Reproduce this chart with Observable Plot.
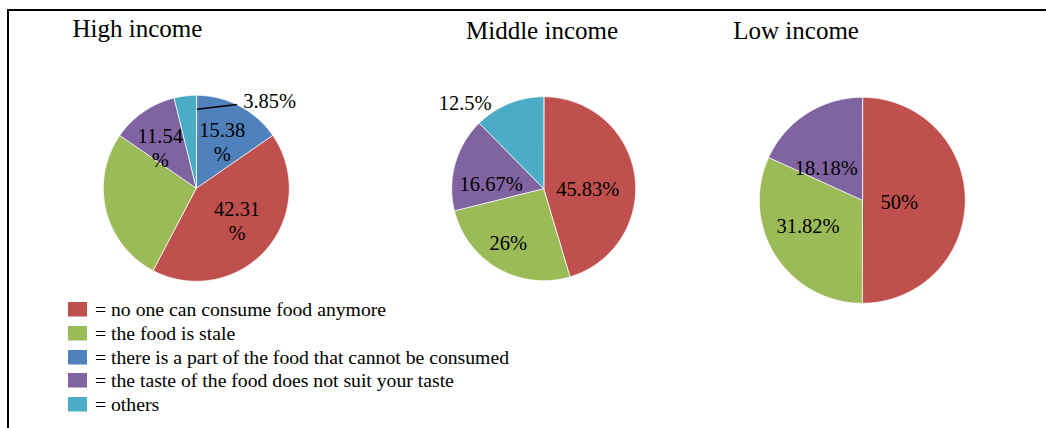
<!DOCTYPE html>
<html><head><meta charset="utf-8">
<script src="https://cdn.jsdelivr.net/npm/d3@7"></script>
<script src="https://cdn.jsdelivr.net/npm/@observablehq/plot@0.6"></script>
<style>
html,body{margin:0;padding:0;background:#fff;}
#root{position:relative;width:1046px;height:428px;overflow:hidden;font-family:"Liberation Serif","Times New Roman",serif;color:#000;}
#frame{position:absolute;left:7px;top:9px;width:1100px;height:500px;border-top:2px solid #000;border-left:2px solid #000;}
.title{position:absolute;font-size:25px;line-height:25px;white-space:nowrap;}
.pie{position:absolute;}
#legend{position:absolute;left:68px;top:298px;width:600px;}
#legend > div{width:600px;margin:0;}
#legend svg{margin-right:8px !important;}
</style></head>
<body><div id="root"><div id="frame"></div></div>
<script>
// ---- data ----
const categories = [
  "no one can consume food anymore",
  "the food is stale",
  "there is a part of the food that cannot be consumed",
  "the taste of the food does not suit your taste",
  "others"
];
const pieTitles = ["High income", "Middle income", "Low income"];
const highCategories = [categories[2], categories[0], categories[1], categories[3], categories[4]];
const highValues = [15.38, 42.31, 26.92, 11.54, 3.85];
const middleCategories = [categories[0], categories[1], categories[3], categories[4]];
const middleValues = [45.83, 26, 16.67, 12.5];
const lowCategories = [categories[0], categories[1], categories[3]];
const lowValues = [50, 31.82, 18.18];

// ---- style / layout ----
const colors = ["#C0504D", "#9BBB59", "#4F81BD", "#8064A2", "#4BACC6"];
const FONT = "Liberation Serif, Times New Roman, serif";
const PAD = 1.6, LABEL_R = 0.6;
const layouts = [
  {cx:196, cy:188, r:93, titleX:72.5, titleBase:37.3, wrap:true, hide:[categories[1]],
   nudge:{[categories[2]]:[0,2],[categories[0]]:[-1,-5],[categories[3]]:[-4.3,4.6]},
   outside:{[categories[4]]:{at:[0.505,0.946], anchor:"start", leader:[[0.0075,0.849],[0.438,0.90]]}}},
  {cx:543, cy:188.5, r:92, titleX:466, titleBase:39.3, wrap:false, hide:[],
   nudge:{[categories[0]]:[-10.6,8],[categories[1]]:[-8,5.6],[categories[3]]:[0.6,10]},
   outside:{[categories[4]]:{at:[-0.853,0.94], anchor:"middle"}}},
  {cx:862, cy:200, r:103, titleX:733.3, titleBase:39.3, wrap:false, hide:[],
   nudge:{[categories[0]]:[-24.8,1],[categories[1]]:[-2.3,-8.4],[categories[3]]:[-2.6,19]},
   outside:{}}
];
const pies = [[highCategories, highValues], [middleCategories, middleValues], [lowCategories, lowValues]];

const root = document.getElementById("root");

function drawPie(cats, vals, L) {
  const total = d3.sum(vals);
  let acc = 0;
  const slices = cats.map((cat, i) => {
    const a0 = acc / total * 2 * Math.PI; acc += vals[i];
    const a1 = acc / total * 2 * Math.PI;
    return {cat, value: vals[i], a0, a1};
  });
  const verts = [];
  slices.forEach((s, i) => {
    verts.push({key: i, cat: s.cat, x: 0, y: 0});
    const n = Math.max(2, Math.ceil((s.a1 - s.a0) / (Math.PI / 360)));
    for (let k = 0; k <= n; k++) {
      const a = s.a0 + (s.a1 - s.a0) * k / n;
      verts.push({key: i, cat: s.cat, x: Math.sin(a), y: Math.cos(a)});
    }
  });
  const labels = [];
  slices.forEach(s => {
    if (L.hide.includes(s.cat)) return;
    const o = L.outside[s.cat];
    if (o) {
      labels.push({text: `${s.value}%`, x: o.at[0], y: o.at[1], anchor: o.anchor});
    } else {
      const m = (s.a0 + s.a1) / 2, nd = L.nudge[s.cat] || [0, 0];
      labels.push({text: L.wrap ? `${s.value}\n%` : `${s.value}%`,
        x: LABEL_R * Math.sin(m) + nd[0] / L.r, y: LABEL_R * Math.cos(m) - nd[1] / L.r, anchor: "middle"});
    }
  });
  const leaders = Object.values(L.outside).filter(o => o.leader)
    .map(o => ({x1: o.leader[0][0], y1: o.leader[0][1], x2: o.leader[1][0], y2: o.leader[1][1]}));
  const S = 2 * PAD * L.r;
  const txt = {x: "x", y: "y", text: "text", fontSize: 20.5, fontFamily: FONT, fill: "black", lineHeight: 1.18};
  const svg = Plot.plot({
    width: S, height: S, margin: 0,
    x: {domain: [-PAD, PAD], axis: null},
    y: {domain: [-PAD, PAD], axis: null},
    color: {domain: categories, range: colors},
    style: {background: "transparent", overflow: "visible"},
    marks: [
      Plot.line(verts, {x: "x", y: "y", z: "key", fill: "cat", stroke: "white", strokeWidth: 0.8, curve: "linear-closed"}),
      Plot.link(leaders, {x1: "x1", y1: "y1", x2: "x2", y2: "y2", stroke: "black", strokeWidth: 1.5}),
      Plot.text(labels.filter(d => d.anchor === "middle"), {...txt, textAnchor: "middle"}),
      Plot.text(labels.filter(d => d.anchor === "start"), {...txt, textAnchor: "start"})
    ]
  });
  const wrap = document.createElement("div");
  wrap.className = "pie";
  wrap.style.left = (L.cx - PAD * L.r) + "px";
  wrap.style.top = (L.cy - PAD * L.r) + "px";
  wrap.appendChild(svg);
  root.appendChild(wrap);
}

pies.forEach(([c, v], i) => {
  const L = layouts[i];
  drawPie(c, v, L);
  const t = document.createElement("div");
  t.className = "title";
  t.textContent = pieTitles[i];
  t.style.left = L.titleX + "px";
  t.style.top = (L.titleBase - 20.94) + "px";
  root.appendChild(t);
});

const legendBox = document.createElement("div");
legendBox.id = "legend";
legendBox.appendChild(Plot.legend({
  color: {domain: categories, range: colors},
  columns: 1, swatchWidth: 19, swatchHeight: 14.5,
  tickFormat: d => "= " + d,
  style: {fontFamily: FONT, fontSize: "19.7px", lineHeight: "22.75px", color: "#000", marginBottom: "0"}
}));
root.appendChild(legendBox);
</script>
</body></html>
